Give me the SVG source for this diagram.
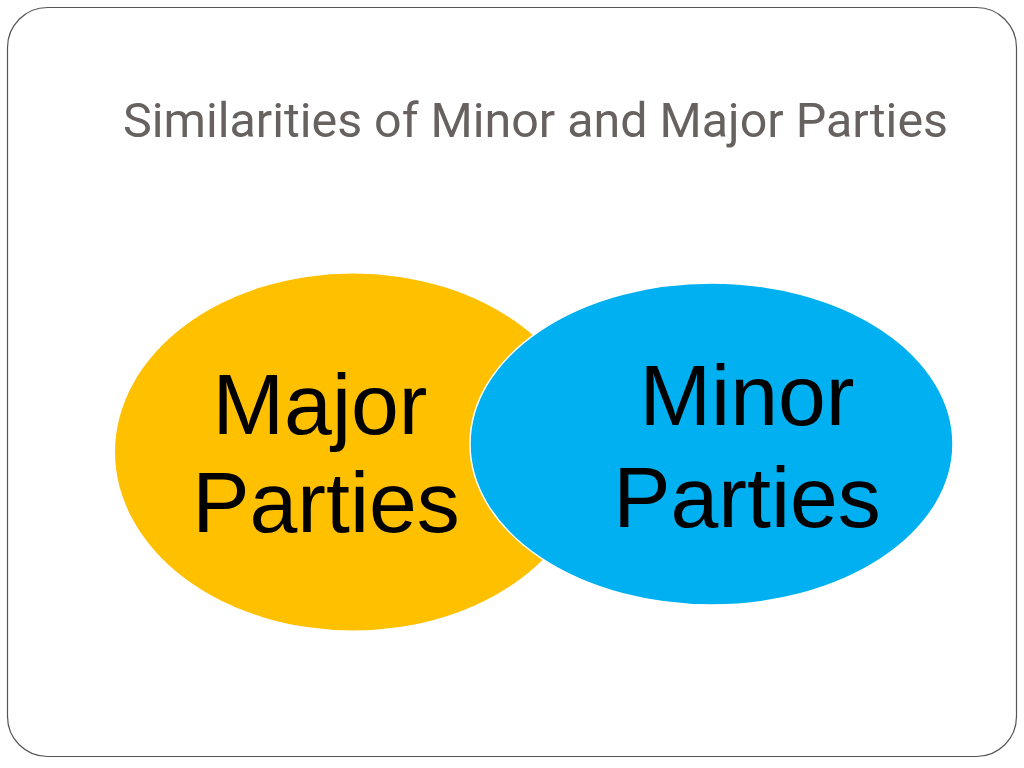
<svg xmlns="http://www.w3.org/2000/svg" width="1024" height="768" viewBox="0 0 1024 768">
  <style>
    .title { font-family: Roboto, "Liberation Sans", sans-serif; font-size: 48px; font-weight: 400; fill: #67615f; }
    .label { font-family: "Liberation Sans", Arial, sans-serif; font-size: 86px; fill: #000000; text-anchor: middle; }
  </style>
  <rect width="1024" height="768" fill="#ffffff"/>
  <rect x="7.5" y="7.5" width="1009" height="749" rx="40" ry="40" fill="none" stroke="#555555" stroke-width="1.2"/>
  <text class="title" x="123" y="137" textLength="825" lengthAdjust="spacingAndGlyphs">Similarities of Minor and Major Parties</text>
  <g id="node-major">
    <ellipse cx="353" cy="452" rx="238" ry="178.5" fill="#ffc000"/>
    <text class="label" x="320" y="434">Major</text>
    <text class="label" x="326" y="532">Parties</text>
  </g>
  <g id="node-minor">
    <ellipse cx="711.5" cy="444" rx="241.5" ry="161" fill="#00b0f0" stroke="#ffffff" stroke-width="1.5"/>
    <text class="label" x="747" y="425">Minor</text>
    <text class="label" x="747" y="527">Parties</text>
  </g>
  <g id="connectors"/>
</svg>
